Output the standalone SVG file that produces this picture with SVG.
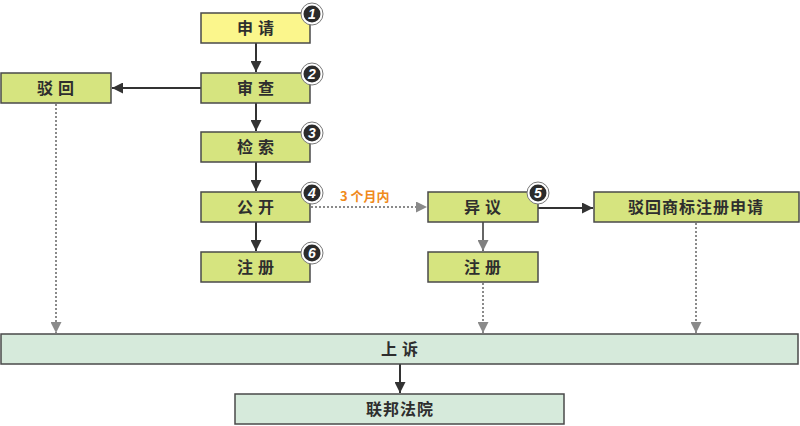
<svg xmlns="http://www.w3.org/2000/svg" width="800" height="426" viewBox="0 0 800 426">
<defs>
<style>
.box{stroke:#4a4a4a;stroke-width:1.5}
.y{fill:#fbf68c}
.g{fill:#d6e47f}
.m{fill:#d6eadb}
.t{font-family:"Noto Sans CJK SC","Noto Sans",sans-serif;font-weight:bold;font-size:16px;fill:#2e2e2e;text-anchor:middle}
.sp{letter-spacing:5px}
.solid{stroke:#333;stroke-width:2;fill:none}
.dot{stroke:#8a8a8a;stroke-width:2;stroke-dasharray:2 2;fill:none}
.bo{fill:#fff;stroke:#777;stroke-width:1}
.bi{fill:#2b2b2b}
.bn{font-family:"Liberation Sans",Arial,sans-serif;font-weight:bold;font-style:italic;font-size:14px;fill:#fff;text-anchor:middle}
.lbl{font-family:"Noto Sans CJK SC","Noto Sans",sans-serif;font-weight:bold;font-size:13px;fill:#f08a1c}
</style>
<marker id="ad" viewBox="0 0 10 10" refX="10" refY="5" markerWidth="5.5" markerHeight="5.5" orient="auto" markerUnits="strokeWidth"><path d="M0,0L10,5L0,10z" fill="#333"/></marker>
<marker id="ag" viewBox="0 0 10 10" refX="10" refY="5" markerWidth="5.5" markerHeight="5.5" orient="auto" markerUnits="strokeWidth"><path d="M0,0L10,5L0,10z" fill="#808080"/></marker>
<marker id="agd" viewBox="0 0 10 10" refX="10" refY="5" markerWidth="5.5" markerHeight="5.5" orient="auto" markerUnits="strokeWidth"><path d="M0,0L10,5L0,10z" fill="#8a8a8a"/></marker>
</defs>
<rect width="800" height="426" fill="#fff"/>
<g id="connectors">
<line class="solid" x1="256" y1="43" x2="256" y2="72" marker-end="url(#ad)"/>
<line class="solid" x1="201" y1="88" x2="112" y2="88" marker-end="url(#ad)"/>
<line class="solid" x1="256" y1="103" x2="256" y2="131" marker-end="url(#ad)"/>
<line class="solid" x1="256" y1="162" x2="256" y2="191" marker-end="url(#ad)"/>
<line class="solid" x1="256" y1="222" x2="256" y2="251" marker-end="url(#ad)"/>
<line class="dot" x1="311" y1="207" x2="427" y2="207" marker-end="url(#agd)"/>
<text class="lbl" x="340" y="201">3 个月内</text>
<line class="solid" x1="538" y1="208" x2="593" y2="208" marker-end="url(#ad)"/>
<line x1="483" y1="222" x2="483" y2="251" stroke="#666" stroke-width="2" marker-end="url(#ag)"/>
<line class="dot" x1="56" y1="104" x2="56" y2="333" marker-end="url(#agd)"/>
<line class="dot" x1="483" y1="283" x2="483" y2="333" marker-end="url(#agd)"/>
<line class="dot" x1="696" y1="223" x2="696" y2="333" marker-end="url(#agd)"/>
<line class="solid" x1="400" y1="364" x2="400" y2="393" marker-end="url(#ad)"/>
</g>
<g id="n1"><rect class="box y" x="201" y="13" width="109" height="30"/><text class="t sp" x="258" y="34">申请</text>
<circle class="bo" cx="312" cy="14" r="11"/><circle class="bi" cx="312" cy="14" r="8.5"/><text class="bn" x="312" y="19">1</text></g>
<g id="n2"><rect class="box g" x="201" y="73" width="109" height="30"/><text class="t sp" x="258" y="94">审查</text>
<circle class="bo" cx="312" cy="74" r="11"/><circle class="bi" cx="312" cy="74" r="8.5"/><text class="bn" x="312" y="79">2</text></g>
<g id="n3"><rect class="box g" x="201" y="132" width="109" height="30"/><text class="t sp" x="258" y="153">检索</text>
<circle class="bo" cx="312" cy="133" r="11"/><circle class="bi" cx="312" cy="133" r="8.5"/><text class="bn" x="312" y="138">3</text></g>
<g id="n4"><rect class="box g" x="201" y="192" width="109" height="30"/><text class="t sp" x="258" y="213">公开</text>
<circle class="bo" cx="312" cy="193" r="11"/><circle class="bi" cx="312" cy="193" r="8.5"/><text class="bn" x="312" y="198">4</text></g>
<g id="n6"><rect class="box g" x="201" y="252" width="109" height="30"/><text class="t sp" x="258" y="273">注册</text>
<circle class="bo" cx="312" cy="253" r="11"/><circle class="bi" cx="312" cy="253" r="8.5"/><text class="bn" x="312" y="258">6</text></g>
<g id="reject"><rect class="box g" x="1" y="73" width="110" height="30"/><text class="t sp" x="58" y="94">驳回</text></g>
<g id="n5"><rect class="box g" x="428" y="192" width="110" height="30"/><text class="t sp" x="485" y="213">异议</text>
<circle class="bo" cx="538" cy="193" r="11"/><circle class="bi" cx="538" cy="193" r="8.5"/><text class="bn" x="538" y="198">5</text></g>
<g id="reg2"><rect class="box g" x="428" y="252" width="110" height="30"/><text class="t sp" x="485" y="273">注册</text></g>
<g id="rejectApp"><rect class="box g" x="594" y="192" width="205" height="30"/><text class="t" x="696" y="213" style="letter-spacing:1px">驳回商标注册申请</text></g>
<g id="appeal"><rect class="box m" x="1" y="334" width="797" height="30"/><text class="t sp" x="402" y="355">上诉</text></g>
<g id="court"><rect class="box m" x="235" y="394" width="329" height="30"/><text class="t" x="400" y="415" style="letter-spacing:1px">联邦法院</text></g>
</svg>
